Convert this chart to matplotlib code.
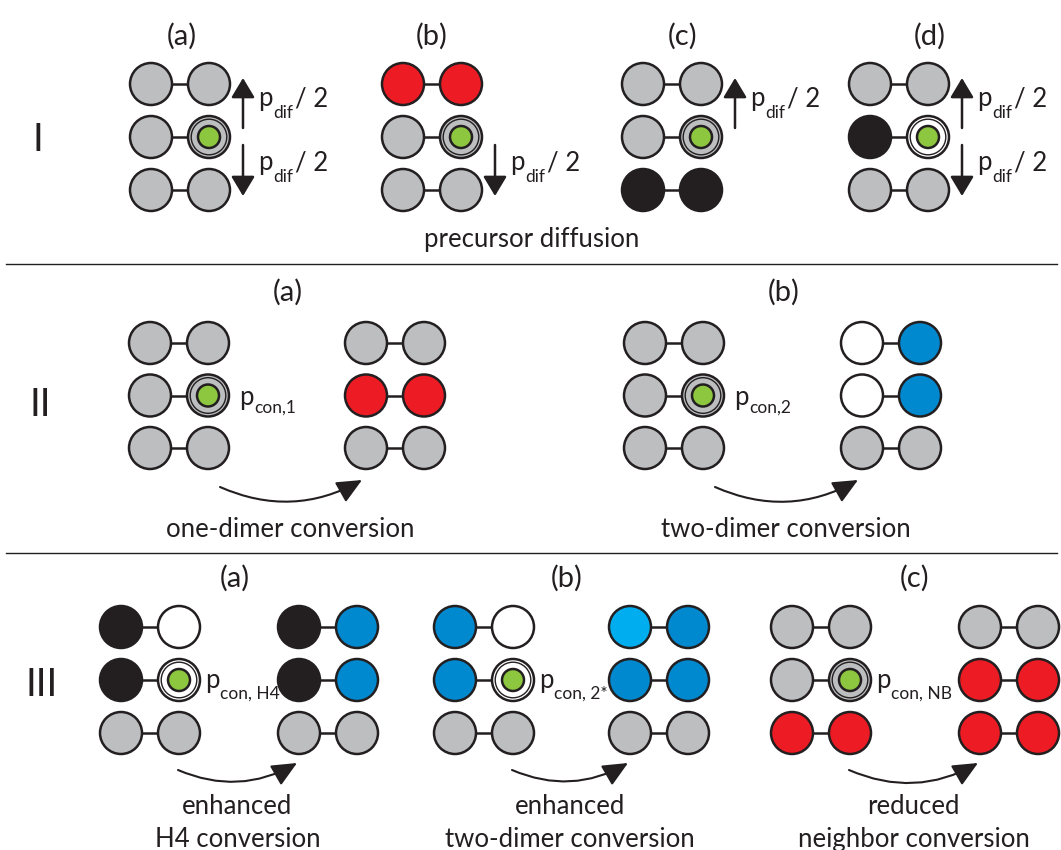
import matplotlib
matplotlib.use("Agg")
import matplotlib.pyplot as plt
from matplotlib.patches import Circle

plt.rcParams['font.family'] = ['Lato', 'DejaVu Sans']

INK = '#231F20'
COLORS = {
    'g': '#BCBEC0',   # unmodified
    'r': '#ED1C24',   # converted (red)
    'k': '#231F20',   # black
    'w': '#FFFFFF',   # empty
    'b': '#0089CF',   # blue
    'c': '#00AEEF',   # light blue
}
GREEN = '#8DC63F'

# nucleosome states, top / middle / bottom dimer, left-right site
diff_states = [
    ['gg', 'gg', 'gg'],
    ['rr', 'gg', 'gg'],
    ['gg', 'gg', 'kk'],
    ['gg', 'kw', 'gg'],
]
diff_arrows = [('up', 'down'), ('down',), ('up',), ('up', 'down')]
diff_tags = ['(a)', '(b)', '(c)', '(d)']

conv_before = [['gg', 'gg', 'gg'], ['gg', 'gg', 'gg']]
conv_after = [['gg', 'rr', 'gg'], ['wb', 'wb', 'gg']]
conv_subs = ['con,1', 'con,2']
conv_tags = ['(a)', '(b)']
conv_captions = ['one-dimer conversion', 'two-dimer conversion']

mod_before = [['kw', 'kw', 'gg'], ['bw', 'bw', 'gg'], ['gg', 'gg', 'rr']]
mod_after = [['kb', 'kb', 'gg'], ['cb', 'bb', 'gg'], ['gg', 'rr', 'rr']]
mod_subs = ['con, H4', 'con, 2*', 'con, NB']
mod_tags = ['(a)', '(b)', '(c)']
mod_captions = [('enhanced', 'H4 conversion'),
                ('enhanced', 'two-dimer conversion'),
                ('reduced', 'neighbor conversion')]

W, H = 1061, 850
fig = plt.figure(figsize=(W / 100, H / 100), dpi=100)
ax = fig.add_axes([0, 0, 1, 1])
ax.set_xlim(0, W)
ax.set_ylim(H, 0)
ax.axis('off')
renderer = fig.canvas.get_renderer()
inv = ax.transData.inverted()

R = 21
DX = 58
FS = 18.5
FS_TAG = 21
FS_SUB = 12.5


def draw_site(x, y, color, precursor=False):
    ax.add_patch(Circle((x, y), R, fc=COLORS[color], ec=INK, lw=1.8, zorder=2))
    if precursor:
        ax.add_patch(Circle((x, y), 17.8, fc='none', ec=INK, lw=1.0, zorder=3))
        ax.add_patch(Circle((x, y), 11, fc=GREEN, ec=INK, lw=1.8, zorder=3))


def draw_grid(x, rows_y, state, precursor=False):
    for i, (pair, y) in enumerate(zip(state, rows_y)):
        ax.plot([x, x + DX], [y, y], color=INK, lw=1.8, zorder=1)
        draw_site(x, y, pair[0])
        draw_site(x + DX, y, pair[1], precursor and i == 1)


def right_edge(t):
    bb = t.get_window_extent(renderer)
    return inv.transform((bb.x1, bb.y0))[0]


def sub_label(x, y, sub, tail='', drop=10):
    t = ax.text(x, y, 'p', fontsize=FS, color=INK, ha='left', va='baseline')
    s = ax.text(right_edge(t) + 0.5, y + drop, sub, fontsize=FS_SUB, color=INK,
                ha='left', va='baseline')
    if tail:
        ax.text(right_edge(s) + 2, y, tail, fontsize=FS, color=INK,
                ha='left', va='baseline')


def vert_arrow(x, y0, y1):
    ax.annotate('', xy=(x, y1), xytext=(x, y0),
                arrowprops=dict(arrowstyle='-|>,head_length=1.0,head_width=0.6',
                                mutation_scale=12, lw=1.8, color=INK,
                                shrinkA=0, shrinkB=0))


def curved_arrow(x0, y0, x1, y1):
    ax.annotate('', xy=(x1, y1), xytext=(x0, y0),
                arrowprops=dict(arrowstyle='-|>,head_length=1.1,head_width=0.5',
                                mutation_scale=14, lw=1.5, color=INK,
                                connectionstyle='arc3,rad=0.25',
                                shrinkA=0, shrinkB=0))


def label(x, y, s, size=FS_TAG):
    ax.text(x, y, s, fontsize=size, color=INK, ha='center', va='center')


def caption(x, y, s):
    ax.text(x, y, s, fontsize=FS, color=INK, ha='center', va='baseline')


# I: precursor diffusion
rows1 = [84, 137, 190]
x1 = [151, 403, 643, 870]
tag1_x = [182, 432, 683, 930]
for x, state, arrows, tag, tx in zip(x1, diff_states, diff_arrows, diff_tags, tag1_x):
    draw_grid(x, rows1, state, precursor=True)
    label(tx, 36, tag)
    arrow_x = x + DX + 34
    for a in arrows:
        if a == 'up':
            vert_arrow(arrow_x, rows1[1] - 9, rows1[0] - 6)
            sub_label(arrow_x + 15, 106, 'dif', '/ 2', drop=12)
        else:
            vert_arrow(arrow_x, rows1[1] + 8, rows1[2] + 6)
            sub_label(arrow_x + 15, 170, 'dif', '/ 2', drop=12)
caption(532, 247, 'precursor diffusion')
label(38, 140, 'I', size=28)
ax.plot([6, 1057], [264, 264], color=INK, lw=1.0)

# II: conversion
rows2 = [343, 395.5, 448]
xb2 = [150, 645]
xa2 = [366, 862]
tag2_x = [288, 784]
for bx, axx, sb, sa, sub, tag, cap, tx in zip(xb2, xa2, conv_before, conv_after,
                                              conv_subs, conv_tags, conv_captions, tag2_x):
    draw_grid(bx, rows2, sb, precursor=True)
    draw_grid(axx, rows2, sa)
    sub_label(bx + DX + 31, 405, sub, drop=8)
    curved_arrow(bx + 70, 487, axx - 4, 480)
    label(tx, 292, tag)
    caption(tx + 2, 537, cap)
label(40, 405, 'II', size=28)
ax.plot([6, 1057], [553, 553], color=INK, lw=1.0)

# III: modified conversion rates
rows3 = [627, 680, 733]
xb3 = [121, 455, 792]
xa3 = [299, 630, 980]
tag3_x = [235, 567, 915]
for bx, axx, sb, sa, sub, tag, cap, tx in zip(xb3, xa3, mod_before, mod_after,
                                              mod_subs, mod_tags, mod_captions, tag3_x):
    draw_grid(bx, rows3, sb, precursor=True)
    draw_grid(axx, rows3, sa)
    sub_label(bx + DX + 26, 688, sub, drop=11)
    curved_arrow(bx + 57, 770, axx - 2, 763)
    label(tx, 578, tag)
    mid = (bx + 57 + axx - 2) / 2
    caption(mid, 814, cap[0])
    caption(mid, 847, cap[1])
label(42, 685, 'III', size=28)

fig.savefig('out.png', dpi=100)
